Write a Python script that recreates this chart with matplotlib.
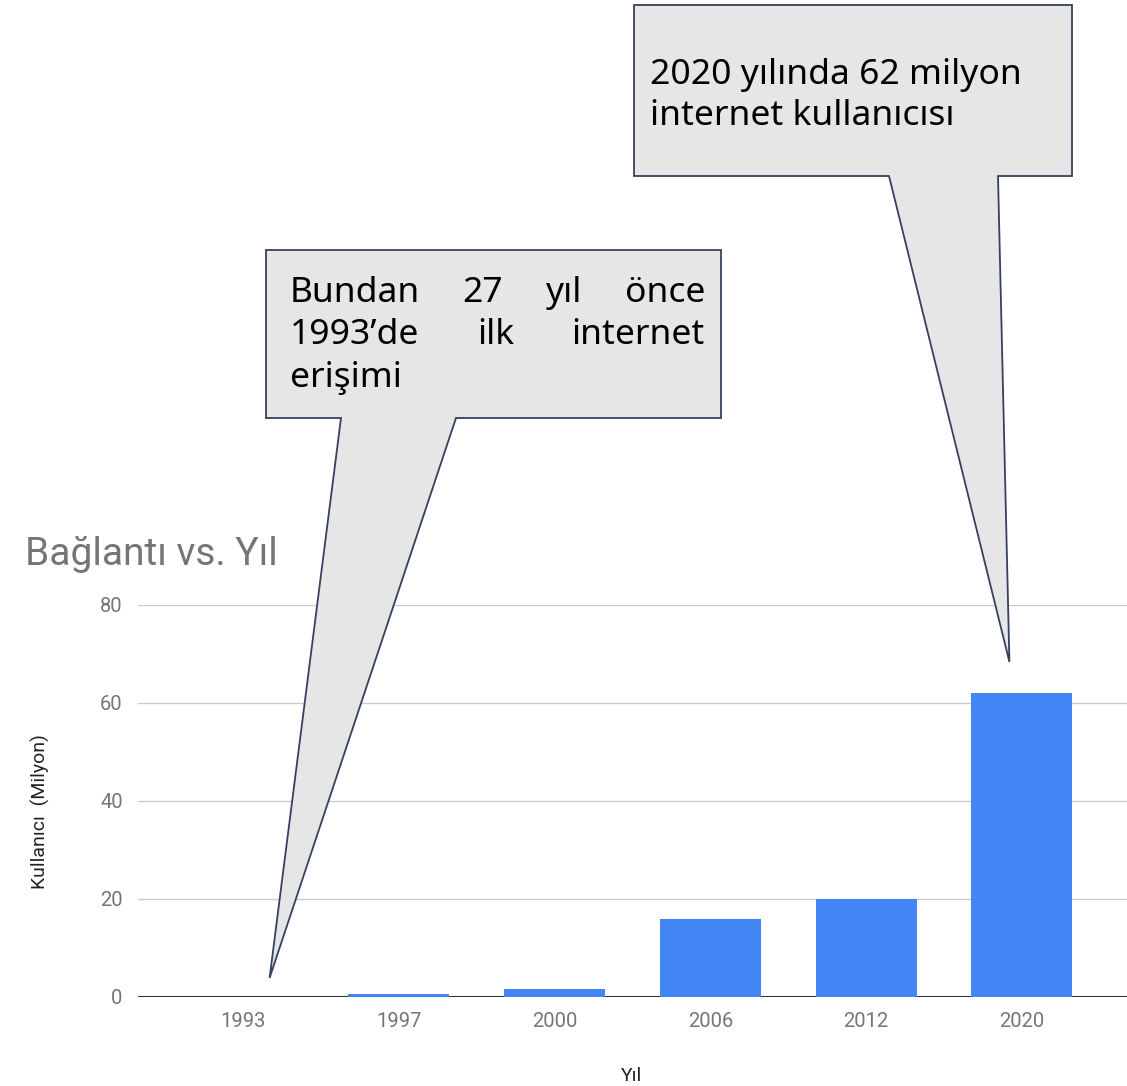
import numpy as np
import matplotlib.pyplot as plt
from matplotlib.patches import Polygon

YEARS = ['1993', '1997', '2000', '2006', '2012', '2020']
USERS = [0.0, 0.6, 1.7, 16, 20, 62]   # milyon
Y_TICKS = [0, 20, 40, 60, 80]

TITLE = 'Bağlantı vs. Yıl'
X_LABEL = 'Yıl'
Y_LABEL = 'Kullanıcı  (Milyon)'
NOTE_1 = [['Bundan', '27', 'yıl', 'önce'], ['1993’de', 'ilk', 'internet'], ['erişimi']]
NOTE_2 = [['2020 yılında 62 milyon'], ['internet kullanıcısı']]

W, H = 1127, 1086
fig = plt.figure(figsize=(W / 100, H / 100), dpi=100)
ax = fig.add_axes([138 / W, 1 - 997 / H, 1 - 138 / W, 392 / H])

x = np.arange(len(YEARS))
ax.bar(x, USERS, width=0.65, color='#4285F4', zorder=5)
ax.set_xlim(-0.675, len(YEARS) - 0.325)
ax.set_ylim(0, 80)
ax.set_yticks(Y_TICKS)
ax.set_xticks(x)
ax.set_xticklabels(YEARS)
ax.grid(axis='y', color='#cccccc', lw=1, zorder=0)
ax.axhline(0, color='#333333', lw=1.5, zorder=4)
for s in ax.spines.values():
    s.set_visible(False)
ax.tick_params(length=0, labelsize=14.5, labelcolor='#757575', pad=11)
ax.tick_params(axis='x', pad=11)
for lab in ax.get_xticklabels() + ax.get_yticklabels():
    lab.set_family('Roboto')

fig.text(25 / W, 1 - 565 / H, TITLE, fontsize=28, color='#757575', family='Roboto')
fig.text(40 / W, 1 - 812 / H, Y_LABEL, fontsize=14, color='#222222', family='Roboto',
         rotation=90, ha='center', va='center')
fig.text(632 / W, 1 - 1081 / H, X_LABEL, fontsize=14, color='#222222', family='Roboto',
         ha='center', va='baseline')


def px_to_fig(px, py):
    return px / W, 1 - py / H


def callout(box, base, tip_data):
    # box: left, top, right, bottom in pixels; base: two x pixels on bottom edge
    l, t, r, b = box
    tx, ty = ax.transData.transform(tip_data)
    pts = [(l, t), (r, t), (r, b), (base[1], b), (tx, H - ty), (base[0], b), (l, b)]
    pts = [px_to_fig(*p) for p in pts]
    poly = Polygon(pts, closed=True, transform=fig.transFigure, facecolor='#e6e6e6',
                   edgecolor='#34425f', lw=1.3, zorder=10)
    fig.add_artist(poly)


def justified(lines, left, right, top_base, step, size):
    renderer = fig.canvas.get_renderer()
    for i, words in enumerate(lines):
        yb = top_base + i * step
        texts = [fig.text(0, 1 - yb / H, w, fontsize=size, family='Noto Sans',
                          color='black', va='baseline', zorder=11) for w in words]
        widths = [t.get_window_extent(renderer).width for t in texts]
        if len(words) == 1 or i == len(lines) - 1:
            gap = 0
        else:
            gap = (right - left - sum(widths)) / (len(words) - 1)
        pos = left
        for t, w in zip(texts, widths):
            t.set_x(pos / W)
            pos += w + gap


callout((266, 250, 721, 418), (341, 456), (0.17, 3.9))
callout((634, 5, 1072, 176), (889, 998), (5 - 0.08, 68.4))
justified(NOTE_1, 290, 705, 302, 42.5, 25.5)
justified(NOTE_2, 650, 1040, 84, 41, 25.5)

fig.savefig('out.png', dpi=100)
